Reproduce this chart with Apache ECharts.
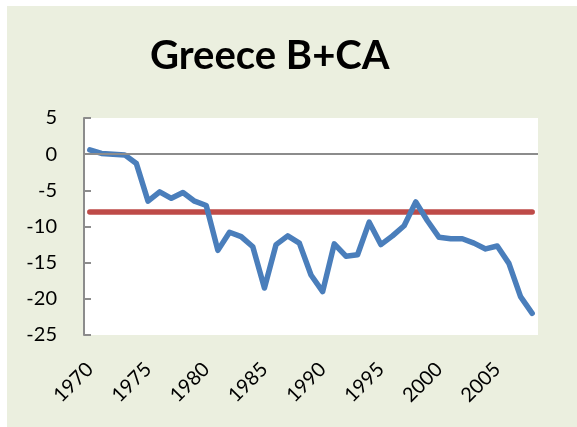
<!DOCTYPE html>
<html>
<head>
<meta charset="utf-8">
<title>Greece B+CA</title>
<script src="https://cdn.jsdelivr.net/npm/echarts@6/dist/echarts.min.js"></script>
<style>
  body {
    margin: 0;
    background: #ffffff;
  }
  #chart {
    position: absolute;
    left: 7px;
    top: 6px;
    width: 570px;
    height: 421px;
    background: #ebefdf;
  }
</style>
</head>
<body>
<div id="chart"></div>
<script>
  // years on the category axis
  var years = ['1970', '1971', '1972', '1973', '1974', '1975', '1976', '1977', '1978', '1979',
    '1980', '1981', '1982', '1983', '1984', '1985', '1986', '1987', '1988', '1989',
    '1990', '1991', '1992', '1993', '1994', '1995', '1996', '1997', '1998', '1999',
    '2000', '2001', '2002', '2003', '2004', '2005', '2006', '2007', '2008'];

  // budget + current account balance
  var balance = [0.6, 0.1, 0, -0.1, -1.3, -6.5, -5.2, -6.1, -5.3, -6.5,
    -7.1, -13.3, -10.8, -11.4, -12.8, -18.5, -12.5, -11.3, -12.3, -16.7,
    -19.0, -12.4, -14.1, -13.9, -9.4, -12.5, -11.3, -9.9, -6.6, -9.2,
    -11.5, -11.7, -11.7, -12.3, -13.1, -12.7, -15.1, -19.7, -22.0];

  // average level, the red line
  var average = [-8, -8, -8, -8, -8, -8, -8, -8, -8, -8,
    -8, -8, -8, -8, -8, -8, -8, -8, -8, -8,
    -8, -8, -8, -8, -8, -8, -8, -8, -8, -8,
    -8, -8, -8, -8, -8, -8, -8, -8, -8];

  var yMin = -25;
  var yMax = 5;
  var yStep = 5;

  var font = 'Lato';
  var chart = echarts.init(document.getElementById('chart'), null, { renderer: 'canvas' });

  var option = {
    backgroundColor: 'transparent',
    animation: false,
    title: {
      text: 'Greece B+CA',
      left: 138,
      top: 25,
      textStyle: {
        fontFamily: font,
        fontSize: 40,
        fontWeight: 'bold',
        color: '#000000'
      }
    },
    grid: {
      left: 77,
      right: 39,
      top: 112,
      bottom: 92,
      show: true,
      backgroundColor: '#ffffff',
      borderWidth: 0
    },
    xAxis: {
      type: 'category',
      data: years,
      boundaryGap: true,
      axisLine: { show: false, onZero: false },
      axisTick: { show: false },
      splitLine: { show: false },
      axisLabel: {
        interval: 4,
        rotate: 45,
        margin: 31,
        fontFamily: font,
        fontSize: 20,
        color: '#000000'
      }
    },
    yAxis: {
      type: 'value',
      min: yMin,
      max: yMax,
      interval: yStep,
      axisLine: { show: true, lineStyle: { color: '#8c8c8c', width: 2 } },
      axisTick: { show: true, inside: true, length: 7, lineStyle: { color: '#8c8c8c', width: 2 } },
      splitLine: { show: false },
      axisLabel: {
        margin: 27,
        fontFamily: font,
        fontSize: 20,
        color: '#000000'
      }
    },
    series: [
      {
        name: 'B+CA',
        type: 'line',
        data: balance,
        symbol: 'none',
        z: 3,
        lineStyle: { color: '#4a7ebb', width: 5.5, cap: 'round', join: 'round' },
        markLine: {
          silent: true,
          symbol: 'none',
          label: { show: false },
          lineStyle: { color: '#8c8c8c', width: 2, type: 'solid' },
          data: [{ yAxis: 0 }]
        }
      },
      {
        name: 'average',
        type: 'line',
        data: average,
        symbol: 'none',
        z: 2,
        lineStyle: { color: '#be4b48', width: 5.5, cap: 'round' }
      }
    ]
  };

  chart.setOption(option);
  window.addEventListener('resize', function () {
    chart.resize();
  });
</script>
</body>
</html>
